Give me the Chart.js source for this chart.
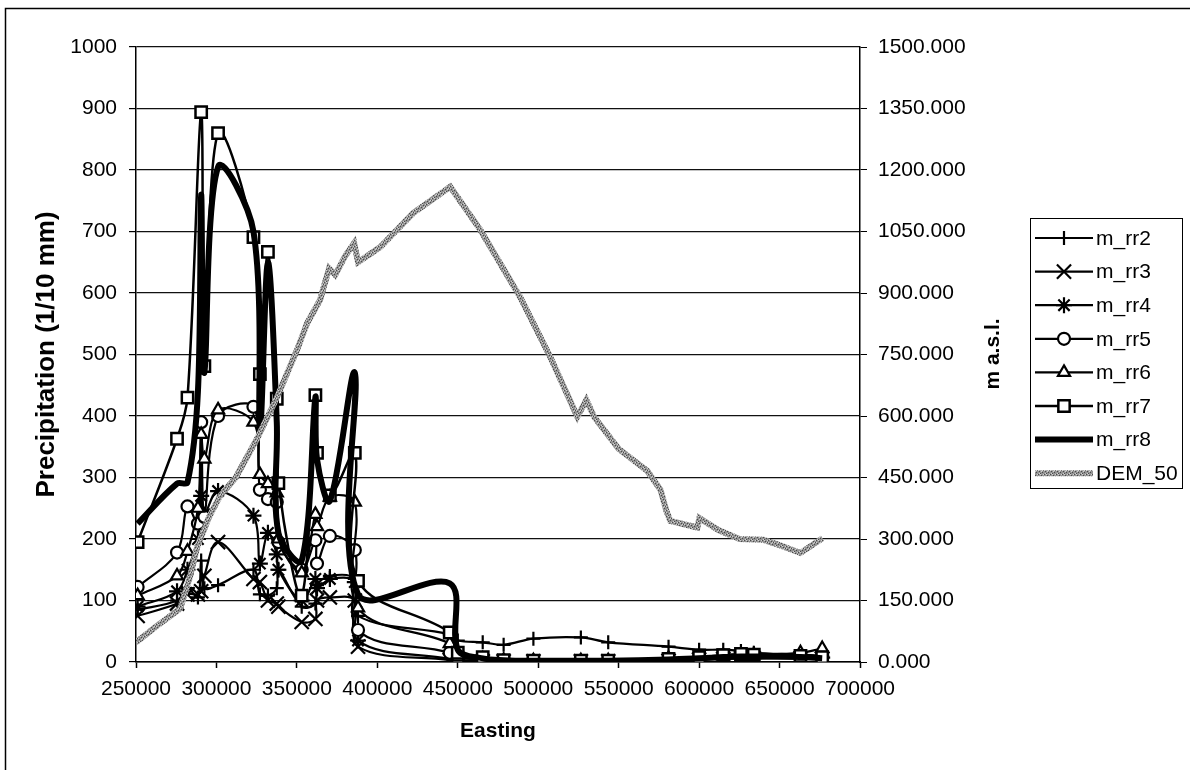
<!DOCTYPE html>
<html>
<head>
<meta charset="utf-8">
<script src="https://cdn.jsdelivr.net/npm/chart.js"></script>
<style>
  html, body { margin: 0; padding: 0; background: #fff; }
  #wrap { width: 1194px; height: 770px; }
</style>
</head>
<body>
<div id="wrap"><canvas id="chart" width="1194" height="770"></canvas></div>
<script>
// station eastings shared by the precipitation series (null = no marker for that series)
const easting = [251000, 275500, 282000, 288500, 290500, 292500, 301000, 323000, 327000, 332000, 337500, 338500, 353000, 361500, 362500, 370500, 386000, 388000, 445000, 450000, 465500, 478500, 497000, 526500, 543500, 581000, 600000, 615000, 626000, 634000, 663000, 676500];

const mRr2 = [85, 100, 120, 105, 165, 120, 125, 150, 110, 108, 120, 150, 90, 95, 125, 140, 135, 75, 45, 35, 32, 28, 38, 40, 32, 25, 20, 20, 18, 15, 12, 10];
const mRr3 = [75, 95, 110, 110, 115, 140, 195, 135, 130, 100, 95, 90, 65, 70, 100, 105, 100, 25, 3, 1, 1, 1, 1, 1, 1, 2, 4, 5, 6, 6, 6, 5];
const mRr4 = [90, 115, 150, 200, 270, 240, 278, 238, 160, 210, 175, 150, 100, 135, 120, 135, 130, 35, 5, 2, 1, 1, 1, 1, 1, 3, 5, 7, 8, 8, 8, 7];
const mRr5 = [122, 178, 253, 225, 390, 236, 400, 415, 280, 265, 260, 195, 150, 198, 160, 205, 182, 52, 15, 4, 3, 2, 2, 2, 2, 4, 6, 8, 10, 10, 9, 8];
const mRr6 = [108, 140, 180, 250, 370, 330, 410, 390, 305, 290, 275, 200, 145, 240, 220, 268, 260, 88, 30, 8, 5, 3, 2, 2, 2, 6, 8, 10, 12, 12, 15, 22];
const mRr7 = [195, 363, 430, null, 894, 481, 860, 691, 468, 667, 428, 291, 108, 434, 340, 271, 340, 132, 48, 15, 8, 3, 2, 2, 2, 5, 8, 11, 13, 12, 10, 8];
const mRr8 = [225, 290, 292, 440, 760, 470, 805, 700, 380, 650, 390, 210, 165, 430, 330, 262, 470, 110, 128, 20, 6, 3, 2, 2, 2, 4, 6, 8, 9, 9, 8, 6];

// terrain profile (right axis, m a.s.l.)
const demEasting = [250000, 262000, 277400, 283000, 288000, 295000, 302200, 312000, 325300, 337000, 350100, 356400, 364400, 370000, 373800, 380000, 385600, 388000, 401800, 422300, 445300, 464000, 488800, 507500, 524300, 529900, 534900, 550000, 567800, 576000, 579700, 582100, 598900, 600200, 612000, 625100, 640000, 650000, 663000, 676700];
const demHeight = [48, 85, 130, 200, 280, 350, 405, 450, 545, 640, 761, 827, 883, 960, 944, 990, 1022, 975, 1012, 1095, 1159, 1054, 890, 744, 598, 639, 597, 520, 466, 420, 368, 344, 328, 351, 322, 300, 298, 285, 266, 302];

const xTicks = { min: 250000, max: 700000, step: 50000 };
const leftTicks = { min: 0, max: 1000, step: 100 };
const rightTicks = { min: 0, max: 1500, step: 150 };

const FONT = "'Liberation Sans', Arial, sans-serif";

function pts(xs, ys) {
  return xs.map((x, i) => ({ x: x, y: ys[i] }));
}

// speckled grey stroke for the DEM line
function speckle() {
  const c = document.createElement('canvas');
  c.width = 6; c.height = 6;
  const g = c.getContext('2d');
  g.fillStyle = '#939393';
  g.fillRect(0, 0, 6, 6);
  g.fillStyle = '#4a4a4a';
  [[0, 0], [3, 1], [1, 3], [4, 4], [2, 5], [5, 2]].forEach(p => g.fillRect(p[0], p[1], 1, 1));
  g.fillStyle = '#d0d0d0';
  [[2, 0], [5, 0], [0, 2], [3, 3], [1, 5], [4, 2]].forEach(p => g.fillRect(p[0], p[1], 1, 1));
  return g.createPattern(c, 'repeat');
}
const demStroke = speckle();

function series(label, ys, style, radius, order, extra) {
  return Object.assign({
    label: label,
    data: pts(easting, ys),
    yAxisID: 'y',
    borderColor: '#000',
    borderWidth: 2.2,
    pointStyle: style,
    pointRadius: radius,
    pointBorderWidth: 2.2,
    pointBorderColor: '#000',
    pointBackgroundColor: '#fff',
    tension: 0.35,
    spanGaps: true,
    fill: false,
    order: order
  }, extra || {});
}

const datasets = [
  series('m_rr2', mRr2, 'cross', 7, 7),
  series('m_rr3', mRr3, 'crossRot', 10, 6),
  series('m_rr4', mRr4, 'star', 8, 5),
  series('m_rr5', mRr5, 'circle', 6, 4),
  series('m_rr6', mRr6, 'triangle', 7, 3),
  series('m_rr7', mRr7, 'rect', 8, 2, { borderWidth: 2.5, pointBorderWidth: 2.5 }),
  series('m_rr8', mRr8, false, 0, 1, { borderWidth: 6 }),
  {
    label: 'DEM_50',
    data: pts(demEasting, demHeight),
    yAxisID: 'y1',
    borderColor: demStroke,
    borderWidth: 6,
    pointRadius: 0,
    tension: 0,
    fill: false,
    order: 0
  }
];

const decor = {
  id: 'decor',
  beforeDraw(chart) {
    const ctx = chart.ctx;
    ctx.save();
    ctx.fillStyle = '#fff';
    ctx.fillRect(0, 0, chart.width, chart.height);
    ctx.strokeStyle = '#000';
    ctx.lineWidth = 1.5;
    ctx.beginPath();
    ctx.moveTo(5.5, 770);
    ctx.lineTo(5.5, 8.5);
    ctx.lineTo(1190, 8.5);
    ctx.stroke();
    ctx.restore();
  },
  afterDraw(chart) {
    const ctx = chart.ctx;
    ctx.save();
    // right axis title, reading bottom to top
    ctx.translate(993, 354);
    ctx.rotate(-Math.PI / 2);
    ctx.font = 'bold 21px ' + FONT;
    ctx.fillStyle = '#000';
    ctx.textAlign = 'center';
    ctx.textBaseline = 'middle';
    ctx.fillText('m a.s.l.', 0, 0);
    ctx.restore();

    // legend box
    ctx.save();
    ctx.strokeStyle = '#000';
    ctx.lineWidth = 1;
    ctx.strokeRect(1030.5, 218.5, 152, 270);
    chart.data.datasets.forEach((ds, i) => {
      const y = 238 + i * 33.6;
      ctx.save();
      ctx.strokeStyle = ds.borderColor;
      ctx.lineWidth = ds.borderWidth;
      ctx.beginPath();
      ctx.moveTo(1035, y);
      ctx.lineTo(1093, y);
      ctx.stroke();
      ctx.restore();
      if (ds.pointStyle && ds.pointRadius) {
        ctx.save();
        ctx.strokeStyle = '#000';
        ctx.fillStyle = '#fff';
        ctx.lineWidth = ds.pointBorderWidth;
        Chart.helpers.drawPoint(ctx, {
          pointStyle: ds.pointStyle,
          radius: ds.pointRadius,
          rotation: 0,
          borderWidth: ds.pointBorderWidth
        }, 1064, y);
        ctx.restore();
      }
      ctx.font = '21px ' + FONT;
      ctx.fillStyle = '#000';
      ctx.textBaseline = 'middle';
      ctx.fillText(ds.label, 1096, y + 1);
    });
    ctx.restore();
  }
};

new Chart(document.getElementById('chart'), {
  type: 'line',
  data: { datasets: datasets },
  plugins: [decor],
  options: {
    responsive: false,
    animation: false,
    events: [],
    layout: { padding: { left: 0, top: 47, right: 0, bottom: 0 } },
    plugins: {
      legend: { display: false },
      tooltip: { enabled: false }
    },
    scales: {
      x: {
        type: 'linear',
        position: 'bottom',
        min: xTicks.min,
        max: xTicks.max,
        afterFit(s) { s.height = 108; },
        ticks: {
          stepSize: xTicks.step,
          autoSkip: false,
          maxRotation: 0,
          padding: 9,
          color: '#000',
          font: { family: FONT, size: 21 },
          callback: v => String(v)
        },
        grid: { drawOnChartArea: false, drawTicks: true, tickLength: 6, tickColor: '#000', tickWidth: 1.5 },
        border: { color: '#000', width: 1.5 },
        title: {
          display: true,
          text: 'Easting',
          color: '#000',
          font: { family: FONT, size: 21, weight: 'bold' },
          padding: { top: 0, bottom: 26 }
        }
      },
      y: {
        type: 'linear',
        position: 'left',
        min: leftTicks.min,
        max: leftTicks.max,
        afterFit(s) { s.width = 136; },
        ticks: {
          stepSize: leftTicks.step,
          padding: 12,
          color: '#000',
          font: { family: FONT, size: 21 },
          callback: v => String(v)
        },
        grid: { color: '#111', lineWidth: 1.2, tickLength: 7, tickColor: '#000' },
        border: { color: '#000', width: 1.5 },
        title: {
          display: true,
          text: 'Precipitation (1/10 mm)',
          color: '#000',
          font: { family: FONT, size: 26, weight: 'bold' },
          padding: { top: 31, bottom: 0 }
        }
      },
      y1: {
        type: 'linear',
        position: 'right',
        min: rightTicks.min,
        max: rightTicks.max,
        afterFit(s) { s.width = 334; },
        ticks: {
          stepSize: rightTicks.step,
          padding: 11,
          color: '#000',
          font: { family: FONT, size: 21 },
          callback: v => v.toFixed(3)
        },
        grid: { drawOnChartArea: false, drawTicks: true, tickLength: 7, tickColor: '#000' },
        border: { color: '#000', width: 1.5 }
      }
    }
  }
});
</script>
</body>
</html>
